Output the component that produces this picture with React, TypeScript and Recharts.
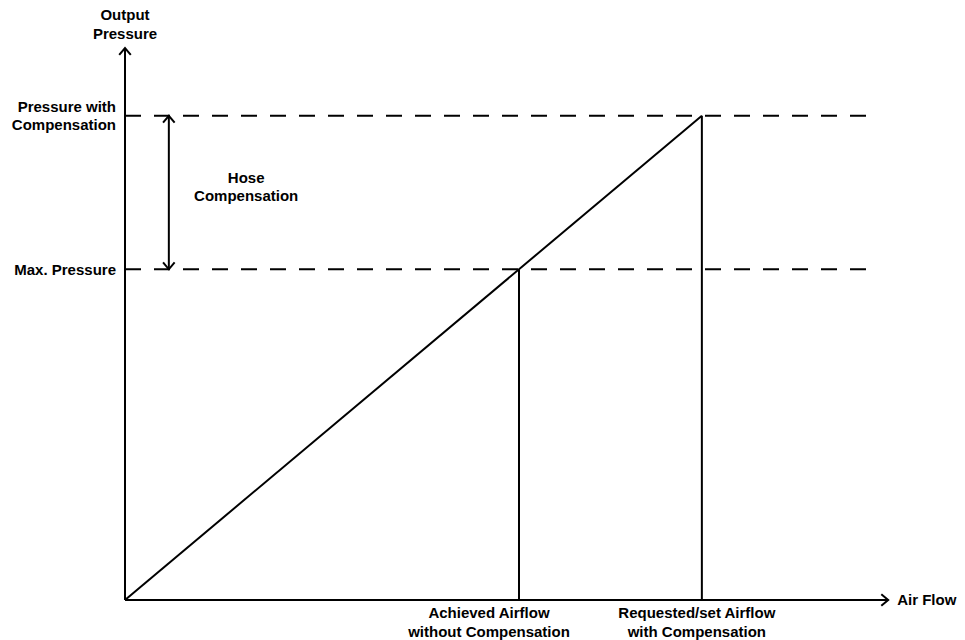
import { LineChart, Line, XAxis, YAxis, ReferenceLine, ReferenceDot } from "recharts";

// values are in relative units: requested airflow / compensated pressure = 100
const curve = [
  { flow: 0, pressure: 0 },
  { flow: 100, pressure: 100 },
];
const achievedFlow = 68.3;
const requestedFlow = 100;
const maxPressure = 68.3;
const compPressure = 100;
const hoseArrowFlow = 7.6;
const dashEndFlow = 130;
const flowAxisEnd = 132.3;
const pressureAxisEnd = 114;

const flowTicks = [achievedFlow, requestedFlow];
const flowTickLabels = [
  ["Achieved Airflow", "without Compensation"],
  ["Requested/set Airflow", "with Compensation"],
];
const pressureTicks = [maxPressure, compPressure];
const pressureTickLabels = [["Max. Pressure"], ["Pressure with", "Compensation"]];
const yTitle = ["Output", "Pressure"];
const xTitle = "Air Flow";
const hoseLabel = ["Hose", "Compensation"];

// label nudges (px) for the flow tick labels, as in the original drawing
const flowTickShift = [-30, -5];

const FONT = "'Liberation Sans', Arial, sans-serif";
const FS = 15;
const LH = 18.5;

const textStyle = { fontFamily: FONT, fontSize: FS, fontWeight: 700, fill: "#000" };

const chevron = (x: number, y: number, angle: number) => {
  const len = 9;
  const spread = Math.PI / 4.5;
  const a1 = angle + Math.PI - spread;
  const a2 = angle + Math.PI + spread;
  return (
    <polyline
      points={`${x + len * Math.cos(a1)},${y + len * Math.sin(a1)} ${x},${y} ${x + len * Math.cos(a2)},${y + len * Math.sin(a2)}`}
      fill="none"
      stroke="#000"
      strokeWidth={2}
    />
  );
};

const ArrowLine = (p: any, start: boolean, end: boolean, extra?: any) => {
  const { x1, y1, x2, y2 } = p;
  const ang = Math.atan2(y2 - y1, x2 - x1);
  return (
    <g>
      <line x1={x1} y1={y1} x2={x2} y2={y2} stroke="#000" strokeWidth={2} />
      {start && chevron(x1, y1, ang + Math.PI)}
      {end && chevron(x2, y2, ang)}
      {extra}
    </g>
  );
};

const MultiLine = ({ x, y, lines, anchor }: { x: number; y: number; lines: string[]; anchor: "start" | "middle" | "end" }) => (
  <text x={x} y={y} textAnchor={anchor} style={textStyle}>
    {lines.map((l, i) => (
      <tspan key={i} x={x} y={y + (i - (lines.length - 1) / 2) * LH} dy="0.35em">
        {l}
      </tspan>
    ))}
  </text>
);

const FlowTick = (props: any) => {
  const { x, y, payload } = props;
  const idx = flowTicks.indexOf(payload.value);
  const lines = flowTickLabels[idx] || [];
  return <MultiLine x={x + (flowTickShift[idx] || 0)} y={y + 22} lines={lines} anchor="middle" />;
};

const PressureTick = (props: any) => {
  const { x, y, payload } = props;
  const idx = pressureTicks.indexOf(payload.value);
  const lines = pressureTickLabels[idx] || [];
  return <MultiLine x={x} y={y} lines={lines} anchor="end" />;
};

export default function App() {
  return (
    <div style={{ position: "absolute", left: 0, top: 0, width: 965, height: 640, background: "#fff" }}>
      <LineChart width={965} height={640} data={curve} margin={{ top: 48, right: 67, bottom: 0, left: 0 }}>
        <XAxis
          type="number"
          dataKey="flow"
          domain={[0, 134]}
          ticks={flowTicks}
          tick={<FlowTick />}
          axisLine={false}
          tickLine={false}
          tickSize={0}
          tickMargin={0}
          height={40}
          interval={0}
        />
        <YAxis
          type="number"
          domain={[0, pressureAxisEnd]}
          ticks={pressureTicks}
          tick={<PressureTick />}
          axisLine={false}
          tickLine={false}
          tickSize={0}
          tickMargin={9}
          width={125}
          interval={0}
        />
        <ReferenceLine
          segment={[{ x: 0, y: compPressure }, { x: dashEndFlow, y: compPressure }]}
          stroke="#000"
          strokeWidth={2}
          strokeDasharray="16 13"
        />
        <ReferenceLine
          segment={[{ x: 0, y: maxPressure }, { x: dashEndFlow, y: maxPressure }]}
          stroke="#000"
          strokeWidth={2}
          strokeDasharray="16 13"
        />
        <ReferenceLine
          segment={[{ x: achievedFlow, y: 0 }, { x: achievedFlow, y: maxPressure }]}
          stroke="#000"
          strokeWidth={2}
        />
        <ReferenceLine
          segment={[{ x: requestedFlow, y: 0 }, { x: requestedFlow, y: compPressure }]}
          stroke="#000"
          strokeWidth={2}
        />
        <ReferenceLine
          segment={[{ x: hoseArrowFlow, y: maxPressure }, { x: hoseArrowFlow, y: compPressure }]}
          shape={(p: any) => ArrowLine(p, true, true)}
        />
        <ReferenceLine
          segment={[{ x: 0, y: 0 }, { x: 0, y: pressureAxisEnd }]}
          shape={(p: any) =>
            ArrowLine(p, false, true, <MultiLine x={p.x2} y={p.y2 - 24} lines={yTitle} anchor="middle" />)
          }
        />
        <ReferenceLine
          segment={[{ x: 0, y: 0 }, { x: flowAxisEnd, y: 0 }]}
          ifOverflow="visible"
          shape={(p: any) =>
            ArrowLine(p, false, true, <MultiLine x={p.x2 + 9} y={p.y2} lines={[xTitle]} anchor="start" />)
          }
        />
        <ReferenceDot
          x={21}
          y={85.3}
          r={0}
          shape={(p: any) => <MultiLine x={p.cx} y={p.cy} lines={hoseLabel} anchor="middle" />}
        />
        <Line
          type="linear"
          dataKey="pressure"
          stroke="#000"
          strokeWidth={2}
          dot={false}
          activeDot={false}
          isAnimationActive={false}
        />
      </LineChart>
    </div>
  );
}
